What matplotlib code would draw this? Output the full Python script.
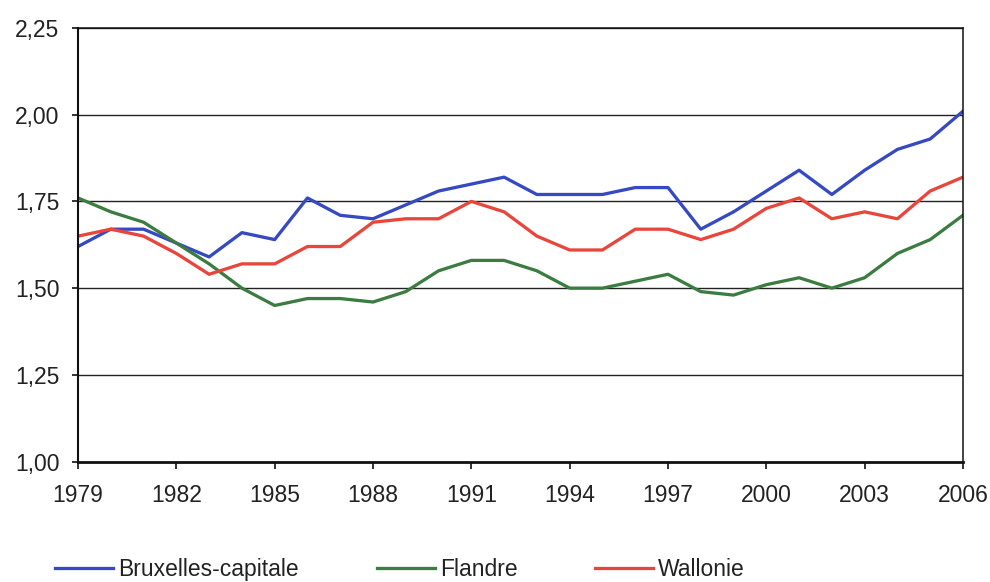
import numpy as np
import matplotlib
matplotlib.use("Agg")
import matplotlib.pyplot as plt

plt.rcParams['font.family'] = ['Liberation Sans', 'DejaVu Sans']

# Years and fertility-like index per region
years = list(range(1979, 2007))
bruxelles = [1.62, 1.67, 1.67, 1.63, 1.59, 1.66, 1.64, 1.76, 1.71, 1.70,
             1.74, 1.78, 1.80, 1.82, 1.77, 1.77, 1.77, 1.79, 1.79, 1.67,
             1.72, 1.78, 1.84, 1.77, 1.84, 1.90, 1.93, 2.01]
flandre = [1.76, 1.72, 1.69, 1.63, 1.57, 1.50, 1.45, 1.47, 1.47, 1.46,
           1.49, 1.55, 1.58, 1.58, 1.55, 1.50, 1.50, 1.52, 1.54, 1.49,
           1.48, 1.51, 1.53, 1.50, 1.53, 1.60, 1.64, 1.71]
wallonie = [1.65, 1.67, 1.65, 1.60, 1.54, 1.57, 1.57, 1.62, 1.62, 1.69,
            1.70, 1.70, 1.75, 1.72, 1.65, 1.61, 1.61, 1.67, 1.67, 1.64,
            1.67, 1.73, 1.76, 1.70, 1.72, 1.70, 1.78, 1.82]
yticks = [1.00, 1.25, 1.50, 1.75, 2.00, 2.25]
xticks = list(range(1979, 2007, 3))

fs = 16.5
fig = plt.figure(figsize=(9.9, 5.82), dpi=100)
ax = fig.add_axes([0.0788, 0.2069, 0.8939, 0.745])

ax.plot(years, bruxelles, color='#3549c2', lw=2.35, label='Bruxelles-capitale')
ax.plot(years, flandre, color='#3b7c40', lw=2.35, label='Flandre')
ax.plot(years, wallonie, color='#e8453b', lw=2.35, label='Wallonie')

ax.set_xlim(1979, 2006)
ax.set_ylim(1.0, 2.25)
ax.set_yticks(yticks)
ax.set_yticklabels([('%.2f' % v).replace('.', ',') for v in yticks])
ax.set_xticks(xticks)
for v in yticks[1:]:
    ax.axhline(v, color='#222222', lw=1.0, zorder=0)
for s in ax.spines.values():
    s.set_color('#111111')
    s.set_linewidth(1.1)
ax.spines['bottom'].set_linewidth(2.0)
ax.spines['left'].set_linewidth(1.5)
ax.tick_params(axis='x', direction='out', length=5, width=1.2, labelsize=fs, pad=11,
               colors='#111111', labelcolor='#222222')
ax.tick_params(axis='y', direction='out', length=4.5, width=1.2, labelsize=fs, pad=9,
               colors='#111111', labelcolor='#222222')

fig.legend(loc='center left', bbox_to_anchor=(0.0556, 0.021), ncol=3, frameon=False,
           fontsize=fs, handlelength=2.53, handletextpad=0.22, columnspacing=3.4,
           borderpad=0, borderaxespad=0, labelcolor='#222222')

fig.savefig('out.png', dpi=100, facecolor='white')
